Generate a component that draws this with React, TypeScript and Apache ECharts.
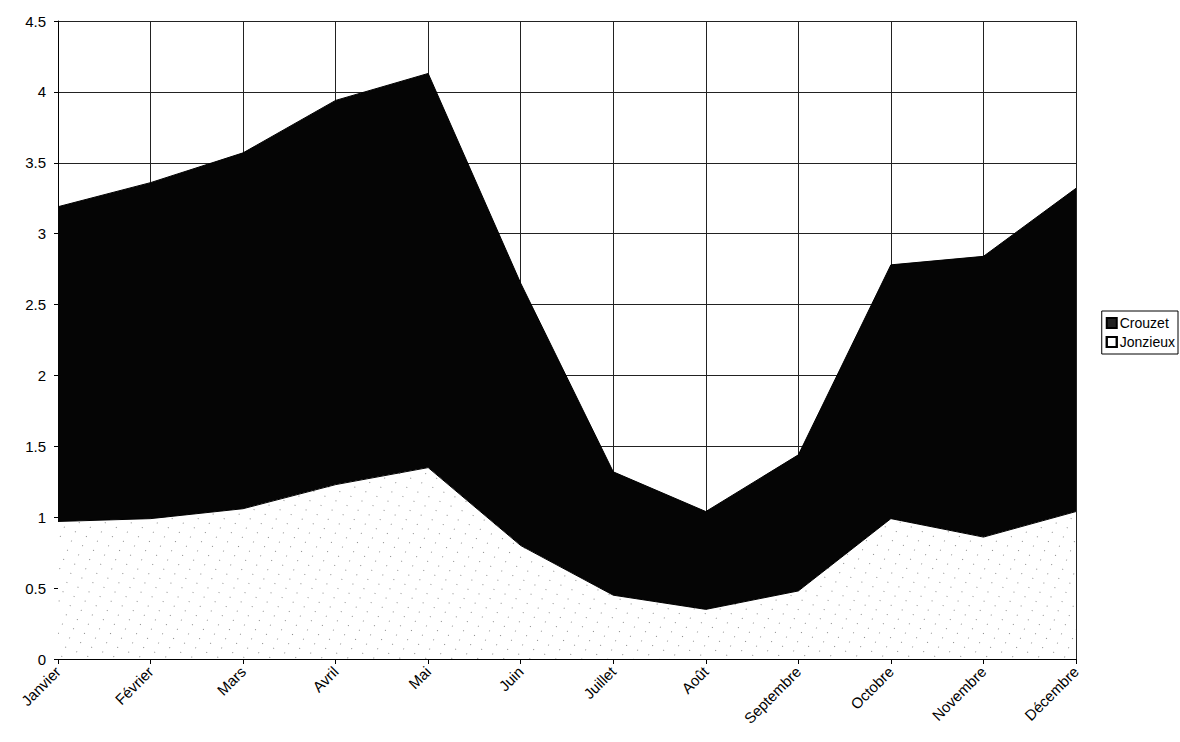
import React, { useEffect, useRef } from "react";
import * as echarts from "echarts";

const months = [
  "Janvier", "Février", "Mars", "Avril", "Mai", "Juin",
  "Juillet", "Août", "Septembre", "Octobre", "Novembre", "Décembre",
];
const jonzieux = [0.97, 0.99, 1.06, 1.23, 1.35, 0.8, 0.45, 0.35, 0.48, 0.99, 0.86, 1.04];
const crouzet = [2.22, 2.37, 2.51, 2.71, 2.78, 1.85, 0.87, 0.69, 0.96, 1.79, 1.98, 2.28];
const yTicks = { min: 0, max: 4.5, interval: 0.5 };

export default function App() {
  const ref = useRef<HTMLDivElement>(null);
  useEffect(() => {
    if (!ref.current) return;
    const chart = echarts.init(ref.current, null, { renderer: "svg" });
    chart.setOption({
      animation: false,
      backgroundColor: "#ffffff",
      textStyle: { fontFamily: "Liberation Sans, Arial, sans-serif" },
      grid: { left: 58, right: 104, top: 21, bottom: 83, containLabel: false },
      legend: {
        orient: "vertical",
        right: 2,
        top: 311,
        data: ["Crouzet", "Jonzieux"],
        icon: "rect",
        itemWidth: 10,
        itemHeight: 10,
        itemGap: 5,
        padding: [5, 3, 5, 4],
        borderColor: "#000",
        borderWidth: 1,
        textStyle: { fontSize: 14, color: "#000", padding: [0, 0, 0, -2] },
      },
      xAxis: {
        type: "category",
        data: months,
        boundaryGap: false,
        axisLine: { show: true, lineStyle: { color: "#000", width: 1 } },
        axisTick: { show: true, length: 5, lineStyle: { color: "#000" } },
        axisLabel: { rotate: 45, fontSize: 15, color: "#000", margin: 10, interval: 0 },
        splitLine: { show: true, lineStyle: { color: "#222", width: 1 } },
      },
      yAxis: {
        type: "value",
        min: yTicks.min,
        max: yTicks.max,
        interval: yTicks.interval,
        axisLine: { show: true, lineStyle: { color: "#000", width: 1 } },
        axisTick: { show: true, length: 4, lineStyle: { color: "#000" } },
        axisLabel: { fontSize: 15, color: "#000", margin: 12 },
        splitLine: { show: true, lineStyle: { color: "#222", width: 1 } },
      },
      series: [
        {
          name: "Jonzieux",
          type: "line",
          stack: "total",
          data: jonzieux,
          symbol: "none",
          color: "#ffffff",
          lineStyle: { color: "#000", width: 1 },
          itemStyle: {
            color: "#ffffff",
            borderColor: "#000",
            borderWidth: 1,
            decal: {
              symbol: "rect",
              symbolSize: 1,
              color: "rgba(0,0,0,0.45)",
              backgroundColor: "#ffffff",
              dashArrayX: [1, 11],
              dashArrayY: [1, 9],
              rotation: 0.4,
            },
          },
          areaStyle: { color: "#ffffff", opacity: 1 },
          z: 3,
        },
        {
          name: "Crouzet",
          type: "line",
          stack: "total",
          data: crouzet,
          symbol: "none",
          color: "#111111",
          lineStyle: { color: "#000", width: 1 },
          itemStyle: { color: "#222", borderColor: "#000", borderWidth: 1 },
          areaStyle: { color: "#050505", opacity: 1 },
          z: 2,
        },
      ],
    });
    return () => chart.dispose();
  }, []);
  return (
    <div
      ref={ref}
      style={{ position: "fixed", left: 0, top: 0, width: 1180, height: 742 }}
    />
  );
}
